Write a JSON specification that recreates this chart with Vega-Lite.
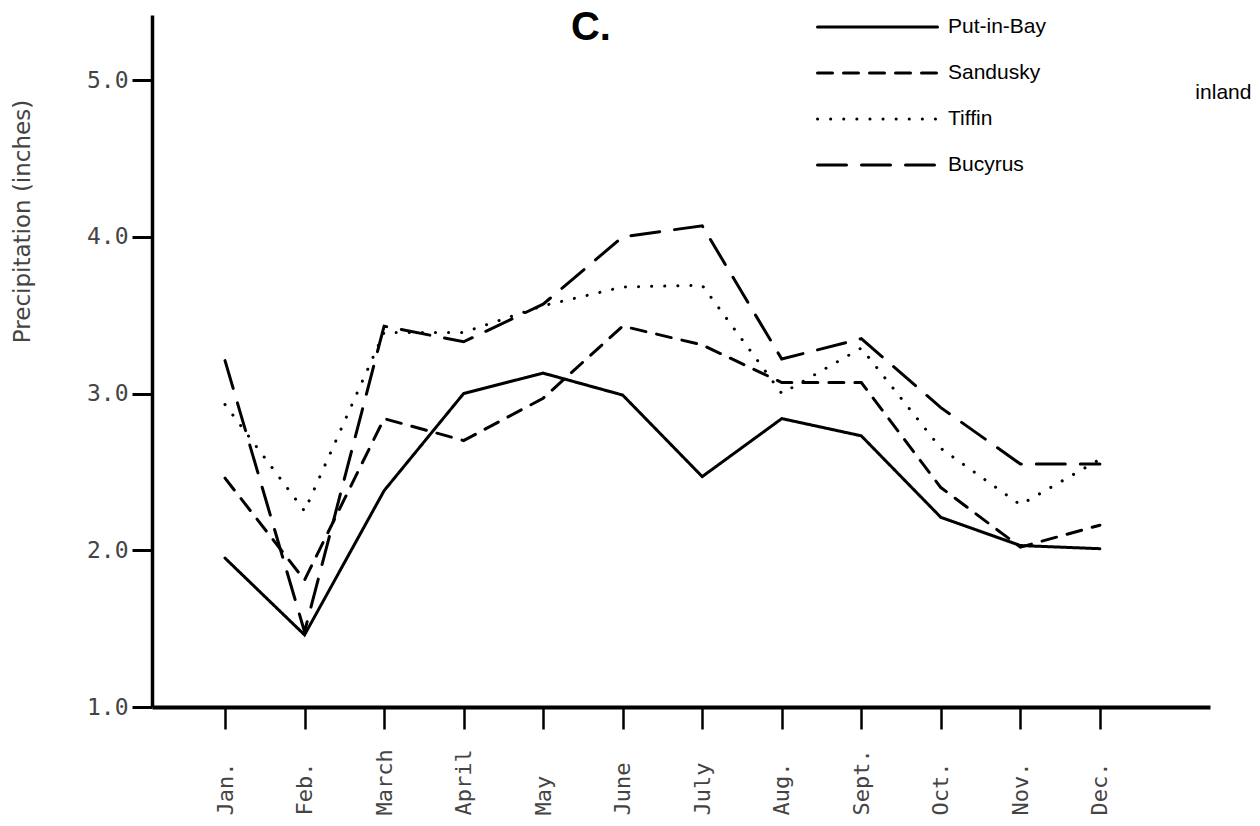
{
  "$schema": "https://vega.github.io/schema/vega-lite/v6.json",
  "width": 1058,
  "height": 692,
  "autosize": {"type": "none"},
  "padding": {"left": 152, "top": 15, "right": 50, "bottom": 119},
  "background": "white",
  "config": {"view": {"stroke": null}, "font": "Liberation Sans"},
  "layer": [
    {
      "data": {"values": [
        {"station": "Put-in-Bay", "m": 1, "month": "Jan.", "precip": 1.95},
        {"station": "Put-in-Bay", "m": 2, "month": "Feb.", "precip": 1.46},
        {"station": "Put-in-Bay", "m": 3, "month": "March", "precip": 2.38},
        {"station": "Put-in-Bay", "m": 4, "month": "April", "precip": 3.00},
        {"station": "Put-in-Bay", "m": 5, "month": "May", "precip": 3.13},
        {"station": "Put-in-Bay", "m": 6, "month": "June", "precip": 2.99},
        {"station": "Put-in-Bay", "m": 7, "month": "July", "precip": 2.47},
        {"station": "Put-in-Bay", "m": 8, "month": "Aug.", "precip": 2.84},
        {"station": "Put-in-Bay", "m": 9, "month": "Sept.", "precip": 2.73},
        {"station": "Put-in-Bay", "m": 10, "month": "Oct.", "precip": 2.21},
        {"station": "Put-in-Bay", "m": 11, "month": "Nov.", "precip": 2.03},
        {"station": "Put-in-Bay", "m": 12, "month": "Dec.", "precip": 2.01},
        {"station": "Sandusky", "m": 1, "month": "Jan.", "precip": 2.46},
        {"station": "Sandusky", "m": 2, "month": "Feb.", "precip": 1.81},
        {"station": "Sandusky", "m": 3, "month": "March", "precip": 2.84},
        {"station": "Sandusky", "m": 4, "month": "April", "precip": 2.70},
        {"station": "Sandusky", "m": 5, "month": "May", "precip": 2.97},
        {"station": "Sandusky", "m": 6, "month": "June", "precip": 3.43},
        {"station": "Sandusky", "m": 7, "month": "July", "precip": 3.31},
        {"station": "Sandusky", "m": 8, "month": "Aug.", "precip": 3.07},
        {"station": "Sandusky", "m": 9, "month": "Sept.", "precip": 3.07},
        {"station": "Sandusky", "m": 10, "month": "Oct.", "precip": 2.40},
        {"station": "Sandusky", "m": 11, "month": "Nov.", "precip": 2.02},
        {"station": "Sandusky", "m": 12, "month": "Dec.", "precip": 2.16},
        {"station": "Tiffin", "m": 1, "month": "Jan.", "precip": 2.93},
        {"station": "Tiffin", "m": 2, "month": "Feb.", "precip": 2.25},
        {"station": "Tiffin", "m": 3, "month": "March", "precip": 3.39},
        {"station": "Tiffin", "m": 4, "month": "April", "precip": 3.39},
        {"station": "Tiffin", "m": 5, "month": "May", "precip": 3.56},
        {"station": "Tiffin", "m": 6, "month": "June", "precip": 3.68},
        {"station": "Tiffin", "m": 7, "month": "July", "precip": 3.69},
        {"station": "Tiffin", "m": 8, "month": "Aug.", "precip": 3.00},
        {"station": "Tiffin", "m": 9, "month": "Sept.", "precip": 3.29},
        {"station": "Tiffin", "m": 10, "month": "Oct.", "precip": 2.65},
        {"station": "Tiffin", "m": 11, "month": "Nov.", "precip": 2.29},
        {"station": "Tiffin", "m": 12, "month": "Dec.", "precip": 2.58},
        {"station": "Bucyrus", "m": 1, "month": "Jan.", "precip": 3.21},
        {"station": "Bucyrus", "m": 2, "month": "Feb.", "precip": 1.48},
        {"station": "Bucyrus", "m": 3, "month": "March", "precip": 3.43},
        {"station": "Bucyrus", "m": 4, "month": "April", "precip": 3.33},
        {"station": "Bucyrus", "m": 5, "month": "May", "precip": 3.57},
        {"station": "Bucyrus", "m": 6, "month": "June", "precip": 4.00},
        {"station": "Bucyrus", "m": 7, "month": "July", "precip": 4.07},
        {"station": "Bucyrus", "m": 8, "month": "Aug.", "precip": 3.22},
        {"station": "Bucyrus", "m": 9, "month": "Sept.", "precip": 3.35},
        {"station": "Bucyrus", "m": 10, "month": "Oct.", "precip": 2.91},
        {"station": "Bucyrus", "m": 11, "month": "Nov.", "precip": 2.55},
        {"station": "Bucyrus", "m": 12, "month": "Dec.", "precip": 2.55}
      ]},
      "mark": {"type": "line", "color": "black", "strokeCap": "round", "strokeJoin": "miter"},
      "encoding": {
        "x": {
          "field": "m", "type": "quantitative",
          "scale": {"domain": [0.082, 13.384], "nice": false, "zero": false},
          "axis": {
            "values": [1, 2, 3, 4, 5, 6, 7, 8, 9, 10, 11, 12],
            "labelExpr": "['Jan.','Feb.','March','April','May','June','July','Aug.','Sept.','Oct.','Nov.','Dec.'][datum.value - 1]",
            "title": null, "grid": false,
            "domainColor": "black", "domainWidth": 4,
            "tickColor": "black", "tickWidth": 2.5, "tickSize": 22,
            "labelAngle": -90, "labelAlign": "left", "labelBaseline": "middle",
            "labelPadding": 86, "labelOverlap": false, "labelBound": false,
            "labelFont": "DejaVu Sans Mono", "labelFontSize": 22, "labelColor": "#444"
          }
        },
        "y": {
          "field": "precip", "type": "quantitative",
          "scale": {"domain": [1, 5.415], "nice": false, "zero": false},
          "axis": {
            "values": [1, 2, 3, 4, 5], "format": ".1f", "grid": false,
            "title": "Precipitation (inches)",
            "domainColor": "black", "domainWidth": 3.5,
            "tickColor": "black", "tickWidth": 3, "tickSize": 20,
            "labelFont": "DejaVu Sans Mono", "labelFontSize": 23, "labelColor": "#444", "labelPadding": 4,
            "titleFont": "DejaVu Sans", "titleFontSize": 23, "titleFontWeight": "normal", "titleColor": "#444",
            "titleX": -130, "titleY": 206, "titleAngle": -90, "titleAlign": "center", "titleBaseline": "middle"
          }
        },
        "strokeDash": {
          "field": "station", "type": "nominal",
          "scale": {"domain": ["Put-in-Bay", "Sandusky", "Tiffin", "Bucyrus"], "range": [[1, 0], [15, 11], [0.1, 13], [29, 15]]},
          "legend": {
            "title": null, "orient": "none", "legendX": 664, "legendY": 0,
            "symbolType": "stroke", "symbolSize": 400, "symbolStrokeWidth": 3, "symbolStrokeColor": "black",
            "labelFont": "Liberation Sans", "labelFontSize": 21, "labelColor": "black", "labelOffset": 9,
            "clipHeight": 24, "rowPadding": 22, "padding": 0, "labelLimit": 300,
            "encode": {"symbols": {"update": {"size": {"value": 14400}, "strokeWidth": {"signal": "datum.value === 'Tiffin' ? 6 : 3"}, "strokeCap": {"value": "round"}}}}
          }
        },
        "strokeWidth": {
          "field": "station", "type": "nominal",
          "scale": {"domain": ["Put-in-Bay", "Sandusky", "Tiffin", "Bucyrus"], "range": [3, 3, 7, 3]},
          "legend": null
        },
        "order": {"field": "m"}
      }
    },
    {
      "data": {"values": [{}]},
      "mark": {"type": "text", "text": "inland", "align": "left", "baseline": "middle", "font": "Liberation Sans", "fontSize": 21, "color": "black"},
      "encoding": {
        "x": {"datum": 13.2},
        "y": {"datum": 4.92}
      }
    },
    {
      "data": {"values": [{}]},
      "mark": {"type": "text", "text": "C.", "align": "center", "baseline": "alphabetic", "font": "Liberation Sans Narrow, Liberation Sans", "fontSize": 40, "fontWeight": "bold", "color": "black"},
      "encoding": {
        "x": {"datum": 5.6},
        "y": {"datum": 5.255}
      }
    }
  ]
}
